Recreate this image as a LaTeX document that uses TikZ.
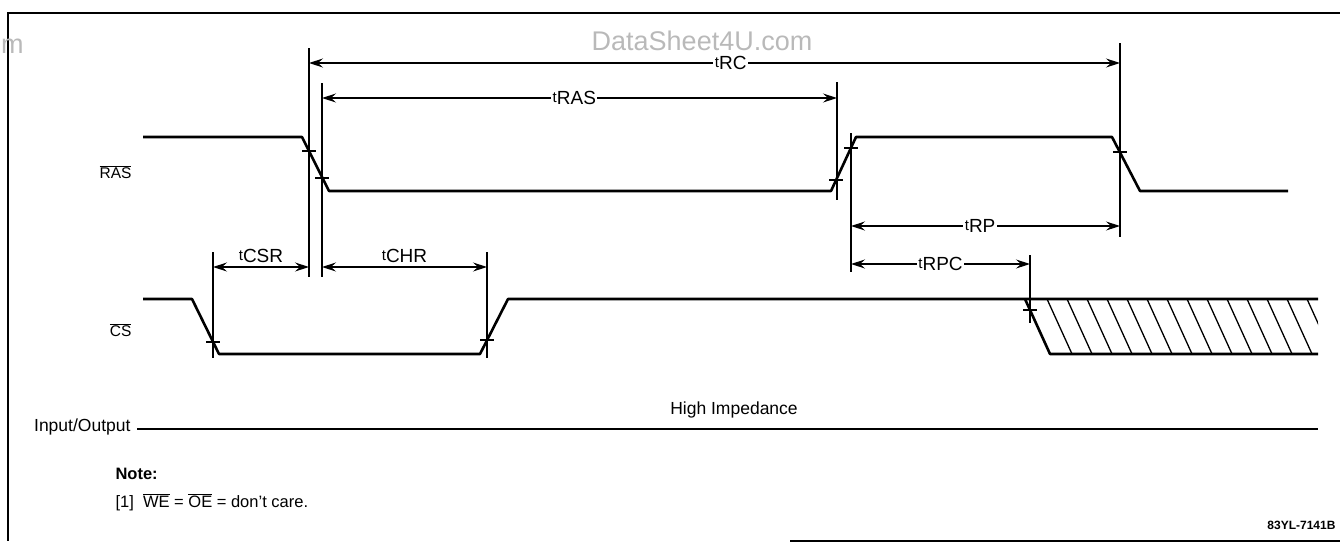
\documentclass[tikz,border=0pt]{standalone}
\usepackage{fontspec}
\setmainfont{Liberation Sans}
\usetikzlibrary{calc,arrows.meta}

\begin{document}
\begin{tikzpicture}[x=1pt, y=-1pt,
    sig/.style={line width=2.6pt, line join=round},
    dim/.style={line width=1.1pt},
    dimarr/.style={dim, {Stealth[length=14pt,width=9pt,inset=5pt]}-{Stealth[length=14pt,width=9pt,inset=5pt]}},
    lbl/.style={font=\fontsize{17.5}{20}\selectfont},
    sname/.style={font=\fontsize{15.5}{18}\selectfont},
    tlbl/.style={fill=white, inner sep=1.5pt, font=\fontsize{19}{21}\selectfont}]
    \useasboundingbox (0, 0) rectangle (1340, 544);
    \def\Rh{137} \def\Rl{191} \def\Ch{299} \def\Cl{354} \def\tk{7}
    \newcommand\tickmark[2]{\draw [dim, line width=1.2pt] ({#1-\tk}, #2) -- ({#1+\tk}, #2);}
    \newcommand\tname[1]{\raisebox{2.5pt}{\fontsize{15}{16}\selectfont t}#1}

    \draw [line width=1.6pt] (1345, 13) -- (8, 13) -- (8, 541);
    \draw [line width=1.6pt] (790, 541) -- (1345, 541);
    \node [gray!55, font=\fontsize{27}{30}\selectfont, inner sep=0pt] (wm) at (702, 41) {DataSheet4U.com};
    \node [gray!55, font=\fontsize{27}{30}\selectfont, anchor=west, inner sep=0pt] (wmcut) at (1, 46) {m};

    \coordinate (aRC) at (309, 63);   \coordinate (bRC) at (1120, 63);
    \coordinate (aRAS) at (322, 98);  \coordinate (bRAS) at (837, 98);
    \coordinate (aRP) at (851, 226);  \coordinate (bRP) at (1120, 226);
    \coordinate (aRPC) at (851, 264); \coordinate (bRPC) at (1030, 264);
    \coordinate (aCSR) at (213, 267); \coordinate (bCSR) at (309, 267);
    \coordinate (aCHR) at (322, 267); \coordinate (bCHR) at (487, 267);

    \draw [dim] (309, 48) -- (309, 277);
    \draw [dim] (322, 83) -- (322, 277);
    \draw [dim] (837, 82) -- (837, 200);
    \draw [dim] (851, 133) -- (851, 272);
    \draw [dim] (1120, 43) -- (1120, 237);
    \draw [dim] (213, 252) -- (213, 358);
    \draw [dim] (487, 252) -- (487, 358);
    \draw [dim] (1030, 255) -- (1030, 323);

    \draw [dimarr] (aRC) -- node [tlbl, pos=.52] (tRC) {\tname{RC}} (bRC);
    \draw [dimarr] (aRAS) -- node [tlbl, pos=.49] (tRAS) {\tname{RAS}} (bRAS);
    \draw [dimarr] (aRP) -- node [tlbl, pos=.48] (tRP) {\tname{RP}} (bRP);
    \draw [dimarr] (aRPC) -- node [tlbl, pos=.5] (tRPC) {\tname{RPC}} (bRPC);
    \draw [dimarr] (aCSR) -- node [tlbl, above=2pt] (tCSR) {\tname{CSR}} (bCSR);
    \draw [dimarr] (aCHR) -- node [tlbl, above=2pt] (tCHR) {\tname{CHR}} (bCHR);

    \draw [sig] (143, \Rh) -- (302, \Rh) -- (329, \Rl) -- (831, \Rl) -- (856, \Rh)
        -- (1112, \Rh) -- (1140, \Rl) -- (1288, \Rl);
    \tickmark{309}{151} \tickmark{322}{178}
    \tickmark{836}{180} \tickmark{851}{148}
    \tickmark{1120}{152}

    \draw [sig] (143, \Ch) -- (192, \Ch) -- (219, \Cl) -- (480, \Cl) -- (508, \Ch)
        -- (1318, \Ch);
    \draw [sig] (1025, \Ch) -- (1050, \Cl) -- (1318, \Cl);
    \tickmark{213}{342} \tickmark{487}{340}
    \tickmark{1030}{310}
    \begin{scope}
        \clip (1025, \Ch) -- (1318, \Ch) -- (1318, \Cl) -- (1050, \Cl) -- cycle;
        \foreach \i in {0, ..., 13}
            \draw [line width=1.3pt] ({1047 + 20*\i}, \Ch) -- ({1072 + 20*\i}, \Cl);
    \end{scope}

    \node [sname, anchor=east] (ras) at (135, 172) {$\overline{\mbox{RAS}}$};
    \node [sname, anchor=east] (cs) at (135, 330) {$\overline{\mbox{CS}}$};

    \node [lbl, anchor=east] (io) at (134, 427) {Input/Output};
    \coordinate (ioend) at (1318, 429);
    \draw [sig] (io.east |- ioend) ++(3, 0) -- (ioend);
    \node [lbl] (hiz) at (734, 410) {High Impedance};

    \node [lbl, anchor=west, font=\fontsize{16.5}{19}\selectfont\bfseries] (note) at (112, 474) {Note:};
    \node [lbl, anchor=west, font=\fontsize{16.5}{19}\selectfont] (note1) at (112, 502)
        {[1]\ \ $\overline{\mbox{WE}}$ = $\overline{\mbox{OE}}$ = don't care.};
    \node [anchor=east, font=\fontsize{12}{14}\selectfont\bfseries] (fig) at (1339, 525) {83YL-7141B};
\end{tikzpicture}
\end{document}
